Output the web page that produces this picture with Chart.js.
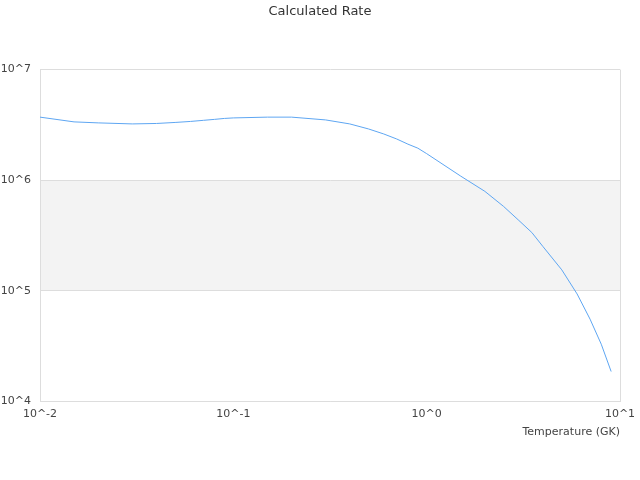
<!DOCTYPE html>
<html>
<head>
<meta charset="utf-8">
<script src="https://cdn.jsdelivr.net/npm/chart.js@4"></script>
<style>
html,body{margin:0;padding:0;background:#fff;}
#wrap{width:640px;height:480px;}
</style>
</head>
<body>
<div id="wrap"><canvas id="c" width="640" height="480"></canvas></div>
<script>
const temperatures = [0.01,0.015,0.02,0.03,0.04,0.05,0.06,0.07,0.08,0.09,0.1,0.15,0.2,0.3,0.4,0.5,0.6,0.7,0.8,0.9,1.0,1.5,2,2.5,3,3.5,4,5,6,7,8,9];
const rates = [3.72e6,3.37e6,3.30e6,3.23e6,3.26e6,3.33e6,3.40e6,3.48e6,3.55e6,3.62e6,3.66e6,3.72e6,3.72e6,3.51e6,3.23e6,2.91e6,2.62e6,2.36e6,2.12e6,1.95e6,1.74e6,1.09e6,7.94e5,5.8e5,4.33e5,3.37e5,2.51e5,1.55e5,9.39e4,5.56e4,3.3e4,1.87e4];
const xTicks = [0.01,0.1,1,10];
const yTicks = [1e4,1e5,1e6,1e7];
const bandRange = [1e5,1e6];

const bandPlugin = {
  id:'band',
  beforeDraw(chart){
    const {ctx, chartArea, scales} = chart;
    const y1 = scales.y.getPixelForValue(bandRange[1]);
    const y0 = scales.y.getPixelForValue(bandRange[0]);
    ctx.save();
    ctx.fillStyle = '#f3f3f3';
    ctx.fillRect(chartArea.left, y1, chartArea.right - chartArea.left, y0 - y1);
    ctx.restore();
  }
};

const fmt = v => '10^' + Math.round(Math.log10(v));

new Chart(document.getElementById('c'), {
  type:'line',
  data:{
    datasets:[{
      data: temperatures.map((t,i)=>({x:t,y:rates[i]})),
      borderColor:'#5ea6f2',
      borderWidth:1,
      pointRadius:0,
      tension:0,
      fill:false
    }]
  },
  options:{
    responsive:false,
    animation:false,
    layout:{padding:{left:0,right:0,top:0,bottom:41}},
    plugins:{
      legend:{display:false},
      tooltip:{enabled:false},
      title:{display:true,text:'Calculated Rate',color:'#333',font:{family:'DejaVu Sans',size:13,weight:'normal'},padding:{top:4,bottom:50}}
    },
    scales:{
      x:{
        type:'logarithmic',
        min:0.01,max:10,
        afterBuildTicks(s){ s.ticks = xTicks.map(v=>({value:v})); },
        afterFit(s){ s.paddingRight = 20; s.paddingLeft = 0; },
        ticks:{callback:fmt,color:'#444',font:{family:'DejaVu Sans',size:11},padding:6,maxRotation:0,autoSkip:false},
        grid:{drawTicks:false,color:(c)=> (c.index===0||c.index===xTicks.length-1)?'#dddddd':'rgba(0,0,0,0)'},
        border:{display:true,color:'#dddddd'},
        title:{display:true,text:'Temperature (GK)',align:'end',color:'#444',font:{family:'DejaVu Sans',size:11},padding:{top:-1,bottom:0}}
      },
      y:{
        type:'logarithmic',
        min:1e4,max:1e7,
        afterBuildTicks(s){ s.ticks = yTicks.map(v=>({value:v})); },
        afterFit(s){ s.width = 40; },
        ticks:{callback:fmt,color:'#444',font:{family:'DejaVu Sans',size:11},padding:9,autoSkip:false},
        grid:{drawTicks:false,color:'#dddddd'},
        border:{display:true,color:'#dddddd'}
      }
    }
  },
  plugins:[bandPlugin]
});
</script>
</body>
</html>
